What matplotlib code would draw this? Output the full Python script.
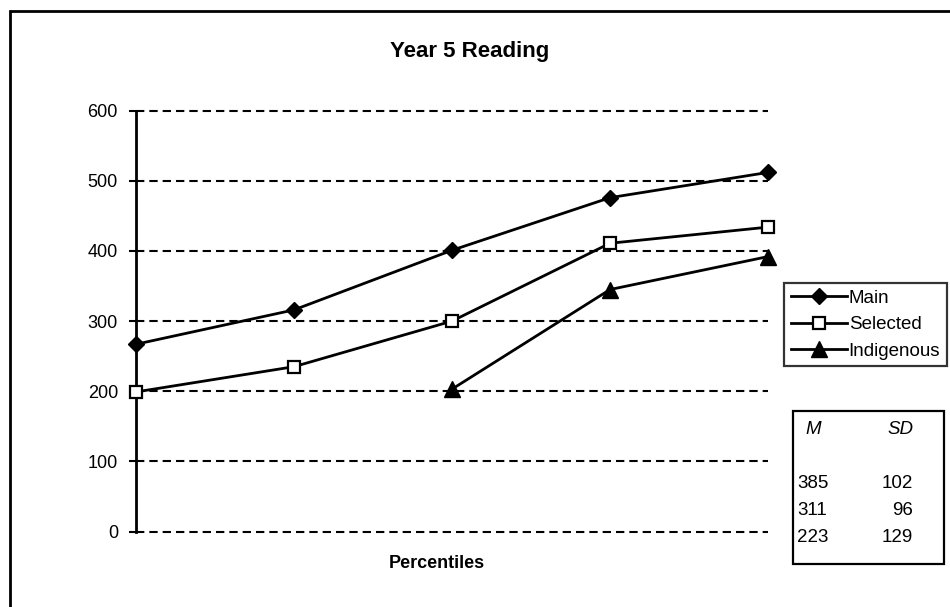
import matplotlib.pyplot as plt
import numpy as np
from matplotlib.patches import Rectangle

plt.rcParams['font.family'] = ['Liberation Sans', 'DejaVu Sans']

# five percentile points along the x axis, no labels shown
percentiles = [10, 25, 50, 75, 90]
main = [267, 316, 401, 476, 512]
selected = [199, 235, 300, 411, 434]
indigenous = [np.nan, np.nan, 203, 345, 392]

series_names = ['Main', 'Selected', 'Indigenous']
stat_means = [385, 311, 223]
stat_sds = [102, 96, 129]

yticks = [0, 100, 200, 300, 400, 500, 600]

W, H = 950, 607
fig = plt.figure(figsize=(W / 100, H / 100), dpi=100)
ax = fig.add_axes([136 / W, 1 - 531.5 / H, (768 - 136) / W, (531.5 - 110.7) / H])

x = np.arange(len(percentiles))
ax.plot(x, main, color='black', lw=2, marker='D', ms=8,
        mfc='black', mec='black', clip_on=False, zorder=3, label=series_names[0])
ax.plot(x, selected, color='black', lw=2, marker='s', ms=8.5,
        mfc='white', mec='black', mew=1.6, clip_on=False, zorder=3, label=series_names[1])
ax.plot(x, indigenous, color='black', lw=2, marker='^', ms=11,
        mfc='black', mec='black', clip_on=False, zorder=3, label=series_names[2])

ax.set_xlim(0, len(percentiles) - 1)
ax.set_ylim(0, 600)
ax.set_yticks(yticks)
ax.set_xticks([])
ax.yaxis.grid(True, color='black', linestyle=(0, (4, 2.4)), linewidth=1.5)
for gl in ax.get_ygridlines():
    gl.set_clip_on(False)
ax.set_axisbelow(True)
for side in ['top', 'right', 'bottom']:
    ax.spines[side].set_visible(False)
ax.spines['left'].set_linewidth(2)
ax.tick_params(axis='y', direction='out', length=5, width=1.5, labelsize=13, pad=8)

fig.text(470 / W, 1 - 52 / H, 'Year 5 Reading', ha='center', va='center',
         fontsize=16, fontweight='bold')
fig.text(437 / W, 1 - 563 / H, 'Percentiles', ha='center', va='center',
         fontsize=13, fontweight='bold')

leg = ax.legend(loc='upper left', bbox_to_anchor=(784 / W, 1 - 283 / H),
                bbox_transform=fig.transFigure, borderaxespad=0, fontsize=13.5,
                frameon=True, fancybox=False, handlelength=3.0, handletextpad=0.1,
                labelspacing=0.5, borderpad=0.35)
leg.get_frame().set_edgecolor('black')
leg.get_frame().set_linewidth(1.6)

# box of means and standard deviations
fig.patches.append(Rectangle((793 / W, 1 - 564 / H), (944 - 793) / W, (564 - 411) / H,
                             transform=fig.transFigure, fill=False, ec='black', lw=1.6))
fig.text(805 / W, 1 - 430 / H, 'M', style='italic', fontsize=13.5, ha='left', va='center')
fig.text(913 / W, 1 - 430 / H, 'SD', style='italic', fontsize=13.5, ha='right', va='center')
for i, (m, s) in enumerate(zip(stat_means, stat_sds)):
    yy = 1 - (483 + 27.5 * i) / H
    fig.text(797 / W, yy, str(m), fontsize=13.5, ha='left', va='center')
    fig.text(913 / W, yy, str(s), fontsize=13.5, ha='right', va='center')

# outer chart border
fig.patches.append(Rectangle((9.5 / W, -0.05), 1.1, 1 - 11 / H + 0.05,
                             transform=fig.transFigure, fill=False, ec='black', lw=2))

fig.savefig('out.png', dpi=100)
